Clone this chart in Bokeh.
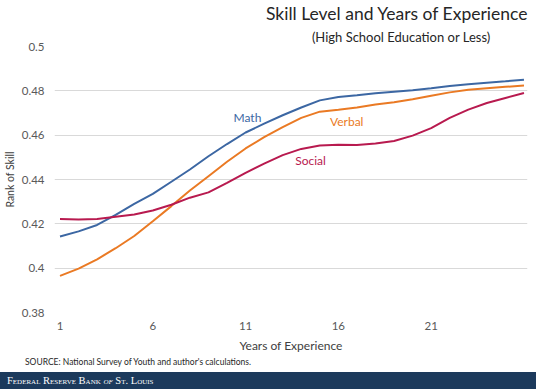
from bokeh.plotting import figure
from bokeh.models import Range1d, FixedTicker, Label, ColumnDataSource, Title, Div
from bokeh.layouts import column
from bokeh.embed import file_html
from bokeh.resources import INLINE

# ---- data ----
years = list(range(1, 27))
math = [0.4143, 0.4166, 0.4195, 0.4240, 0.4290, 0.4335, 0.4390, 0.4445, 0.4505, 0.4560,
        0.4612, 0.4652, 0.4690, 0.4725, 0.4757, 0.4772, 0.4780, 0.4789, 0.4796, 0.4803,
        0.4812, 0.4822, 0.4830, 0.4837, 0.4843, 0.4850]
verbal = [0.3965, 0.3998, 0.4040, 0.4090, 0.4145, 0.4212, 0.4280, 0.4350, 0.4415, 0.4480,
          0.4540, 0.4591, 0.4636, 0.4678, 0.4706, 0.4715, 0.4725, 0.4738, 0.4748, 0.4762,
          0.4778, 0.4793, 0.4805, 0.4812, 0.4818, 0.4824]
social = [0.4222, 0.4220, 0.4222, 0.4232, 0.4242, 0.4260, 0.4286, 0.4318, 0.4342, 0.4385,
          0.4430, 0.4472, 0.4510, 0.4538, 0.4553, 0.4557, 0.4556, 0.4562, 0.4574, 0.4598,
          0.4632, 0.4678, 0.4715, 0.4745, 0.4768, 0.4790]
series_names = ["Math", "Verbal", "Social"]
x_ticks = [1, 6, 11, 16, 21]
y_ticks = [0.38, 0.40, 0.42, 0.44, 0.46, 0.48, 0.50]
y_tick_labels = ["0.38", "0.4", "0.42", "0.44", "0.46", "0.48", "0.5"]

title_text = "Skill Level and Years of Experience"
subtitle_text = "(High School Education or Less)"
source_text = "SOURCE: National Survey of Youth and author's calculations."
x_label = "Years of Experience"
y_label = "Rank of Skill"

FONT = "Lato"
colors = {"Math": "#3c67a3", "Verbal": "#ea7a24", "Social": "#b81a4f"}
NAVY = "#1c3a5c"

W = 536
PH = 355          # chart figure height
DH = 389 - PH     # footer height
FL, FR, FT, FB = 53, 527, 46, 313   # frame edges in page pixels

p = figure(width=W, height=PH, output_backend="svg", toolbar_location=None,
           x_range=Range1d(0.704, 26.19), y_range=Range1d(0.38, 0.50),
           min_border_left=FL, min_border_right=W - FR, min_border_top=FT,
           min_border_bottom=PH - FB)
p.outline_line_color = None
p.background_fill_color = "white"
p.border_fill_color = "white"

src = ColumnDataSource(dict(x=years, math=math, verbal=verbal, social=social))
p.line("x", "math", source=src, line_color=colors["Math"], line_width=2)
p.line("x", "verbal", source=src, line_color=colors["Verbal"], line_width=2)
p.line("x", "social", source=src, line_color=colors["Social"], line_width=2)

p.xaxis.ticker = FixedTicker(ticks=x_ticks)
p.yaxis.ticker = FixedTicker(ticks=y_ticks)
p.yaxis.major_label_overrides = {t: l for t, l in zip(y_ticks, y_tick_labels)}
for ax in (p.xaxis[0], p.yaxis[0]):
    ax.axis_line_color = None
    ax.major_tick_line_color = None
    ax.minor_tick_line_color = None
    ax.major_tick_out = 0
    ax.minor_tick_out = 0
    ax.major_tick_in = 0
    ax.minor_tick_in = 0
    ax.major_label_text_font = FONT
    ax.major_label_text_font_size = "11.5px"
    ax.major_label_text_color = "#595959"
    ax.axis_label_text_font = FONT
    ax.axis_label_text_font_style = "normal"
    ax.axis_label_text_color = "#404040"
p.xaxis.major_label_standoff = 9
p.yaxis.major_label_standoff = 10
p.xaxis.axis_label = x_label
p.xaxis.axis_label_text_font_size = "12px"
p.xaxis.axis_label_standoff = 5
p.yaxis.axis_label = y_label
p.yaxis.axis_label_text_font_size = "10.5px"
p.yaxis.axis_label_standoff = 3

p.xgrid.grid_line_color = None
p.ygrid.grid_line_color = "#d9d9d9"
p.ygrid.grid_line_width = 1

# titles (the one added first sits nearest the plot)
p.add_layout(Title(text=subtitle_text, align="right", offset=37, standoff=4,
                   text_font=FONT, text_font_size="13px", text_font_style="normal",
                   text_color="#262626"), "above")
p.add_layout(Title(text=title_text, align="right", offset=-1, standoff=1,
                   text_font=FONT, text_font_size="17.5px", text_font_style="normal",
                   text_color="#262626"), "above")

# series labels (data coordinates)
label_pos = {"Math": (11.1, 0.4680), "Verbal": (16.45, 0.4660), "Social": (14.5, 0.4487)}
for name in series_names:
    lx, ly = label_pos[name]
    p.add_layout(Label(x=lx, y=ly, text=name, text_color=colors[name], text_font=FONT,
                       text_font_size="12px", text_align="center", text_baseline="middle"))

# ---- footer: source note and banner ----
footer_html = (
    f'<div style="position:relative;width:{W}px;height:{DH}px;margin:0;padding:0;overflow:hidden;">'
    f'<div style="position:absolute;left:25px;top:2px;font-family:{FONT};font-size:8.5px;'
    f'line-height:11px;color:#262626;white-space:nowrap;">{source_text}</div>'
    f'<div style="position:absolute;left:0;top:{DH - 17}px;width:{W}px;height:17px;'
    f'background:{NAVY};"></div>'
    f'<div style="position:absolute;left:7px;top:{DH - 17}px;height:17px;line-height:17px;'
    f'font-family:\'Liberation Serif\';font-size:10.5px;font-variant:small-caps;color:white;'
    f'white-space:nowrap;">Federal Reserve Bank <i>of</i> St. Louis</div>'
    f'</div>'
)
footer = Div(text=footer_html, width=W, height=DH, margin=(0, 0, 0, 0))

layout = column(p, footer, spacing=0)
open("out.html", "w").write(file_html(layout, INLINE))
